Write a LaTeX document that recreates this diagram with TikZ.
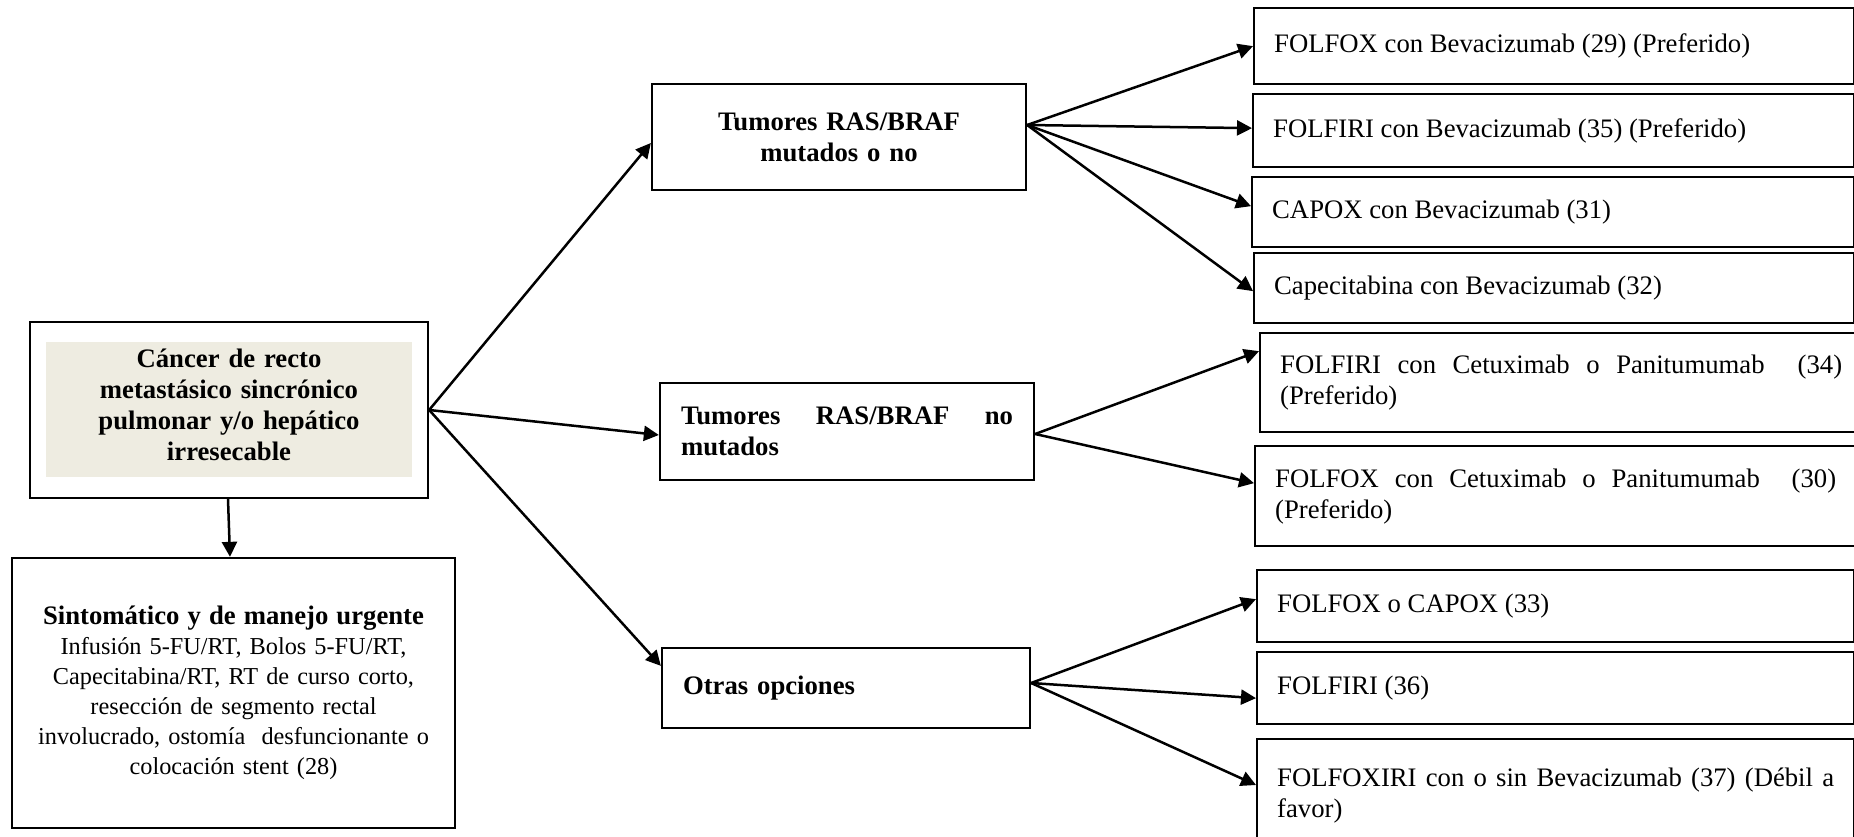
\documentclass[tikz,border=0pt]{standalone}
\usepackage{fontspec}
\setmainfont{Liberation Serif}
\usetikzlibrary{arrows.meta,calc}
\definecolor{beige}{HTML}{EEECE1}
\hyphenpenalty=10000
\exhyphenpenalty=10000
\begin{document}
\begin{tikzpicture}[x=1pt,y=-1pt,
  box/.style={draw, line width=2.3pt, rectangle, inner ysep=0pt},
  big/.style={font=\fontsize{26.7}{31}\selectfont},
  mid/.style={box, big, font=\bfseries\fontsize{26.7}{31}\selectfont, inner xsep=21pt},
  rbox/.style={box, big, anchor=north west, inner xsep=20pt, align=justify},
  arr/.style={line width=2.5pt, -{Triangle[length=15pt,width=15pt]}}]
\useasboundingbox (0,0) rectangle (1854,837);
\clip (0,0) rectangle (1854,837);

% main box
\node[box, minimum width=398pt, minimum height=176pt] (mainframe) at (229,410) {};
\node[fill=beige, minimum width=366pt, minimum height=135pt, inner sep=0pt] (mainfill) at (229,409.5) {};
\node[text width=340pt, align=center, inner sep=0pt, font=\bfseries\fontsize{26.7}{31}\selectfont]
      (main) at (229,405) {Cáncer de recto\\metastásico sincrónico\\pulmonar y/o hepático\\irresecable};

% bottom box
\node[box, minimum width=443pt, minimum height=270pt, text width=420pt, inner xsep=0pt,
      align=center, font=\fontsize{24.3}{30}\selectfont] (bot) at (233.5,693)
  {{\bfseries\fontsize{26.7}{30}\selectfont Sintomático y de manejo urgente}\\
   Infusión 5-FU/RT, Bolos 5-FU/RT,\\
   Capecitabina/RT, RT de curso corto,\\
   resección de segmento rectal\\
   involucrado, ostomía\ \ desfuncionante o\\
   colocación stent (28)};

% middle boxes
\node[mid, minimum width=374pt, minimum height=106pt, text width=332pt, align=center]
  (m1) at (839,137) {Tumores RAS/BRAF\\mutados o no};
\node[mid, minimum width=374pt, minimum height=97pt, text width=332pt, align=justify]
  (m2) at (847,431.5) {Tumores RAS/BRAF no\linebreak mutados};
\node[mid, minimum width=368pt, minimum height=80pt, text width=326pt, align=left]
  (m3) at (846,688) {Otras opciones};

% right boxes
\node[rbox, minimum width=600pt, minimum height=76pt, text width=560pt] (r1) at (1253,7)
  {FOLFOX con Bevacizumab (29) (Preferido)};
\node[rbox, minimum width=601pt, minimum height=73pt, text width=561pt] (r2) at (1252,93)
  {FOLFIRI con Bevacizumab (35) (Preferido)};
\node[rbox, minimum width=602pt, minimum height=70pt, text width=562pt] (r3) at (1251,176)
  {CAPOX con Bevacizumab (31)};
\node[rbox, minimum width=600pt, minimum height=70pt, text width=560pt] (r4) at (1253,252)
  {Capecitabina con Bevacizumab (32)};
\node[rbox, minimum width=602pt, minimum height=99pt, text width=562pt] (r5) at (1259,332)
  {FOLFIRI con Cetuximab o Panitumumab\ \ (34) (Preferido)};
\node[rbox, minimum width=601pt, minimum height=100pt, text width=561pt] (r6) at (1254,445)
  {FOLFOX con Cetuximab o Panitumumab\ \ (30) (Preferido)};
\node[rbox, minimum width=597pt, minimum height=72pt, text width=557pt] (r7) at (1256,569)
  {FOLFOX o CAPOX (33)};
\node[rbox, minimum width=597pt, minimum height=72pt, text width=557pt] (r8) at (1256,651)
  {FOLFIRI (36)};
\node[rbox, minimum width=597pt, minimum height=112pt, text width=557pt] (r9) at (1256,738)
  {FOLFOXIRI con o sin Bevacizumab (37) (Débil a favor)};

% connectors
\draw[arr] ([xshift=-1pt]mainframe.south) -- ([xshift=-3.5pt]bot.north);
\draw[arr] (mainframe.east) -- ([yshift=-6pt]m1.west);
\draw[arr] (mainframe.east) -- ([yshift=-3.5pt]m2.west);
\draw[arr] (mainframe.east) -- ([yshift=-19pt]m3.north west);

\draw[arr] ([yshift=12pt]m1.east) -- (r1.west);
\draw[arr] ([yshift=12pt]m1.east) -- ([yshift=2.5pt]r2.west);
\draw[arr] ([yshift=12pt]m1.east) -- ([yshift=6pt]r3.west);
\draw[arr] ([yshift=12pt]m1.east) -- ([yshift=-3pt]r4.west);

\draw[arr] ([yshift=-2.5pt]m2.east) -- ([yshift=31.5pt]r5.west);
\draw[arr] ([yshift=-2.5pt]m2.east) -- ([yshift=13pt]r6.west);

\draw[arr] ([yshift=5pt]m3.east) -- ([yshift=7pt]r7.west);
\draw[arr] ([yshift=5pt]m3.east) -- ([yshift=-10pt]r8.west);
\draw[arr] ([yshift=5pt]m3.east) -- ([yshift=-47pt]r9.north west);
\end{tikzpicture}
\end{document}
